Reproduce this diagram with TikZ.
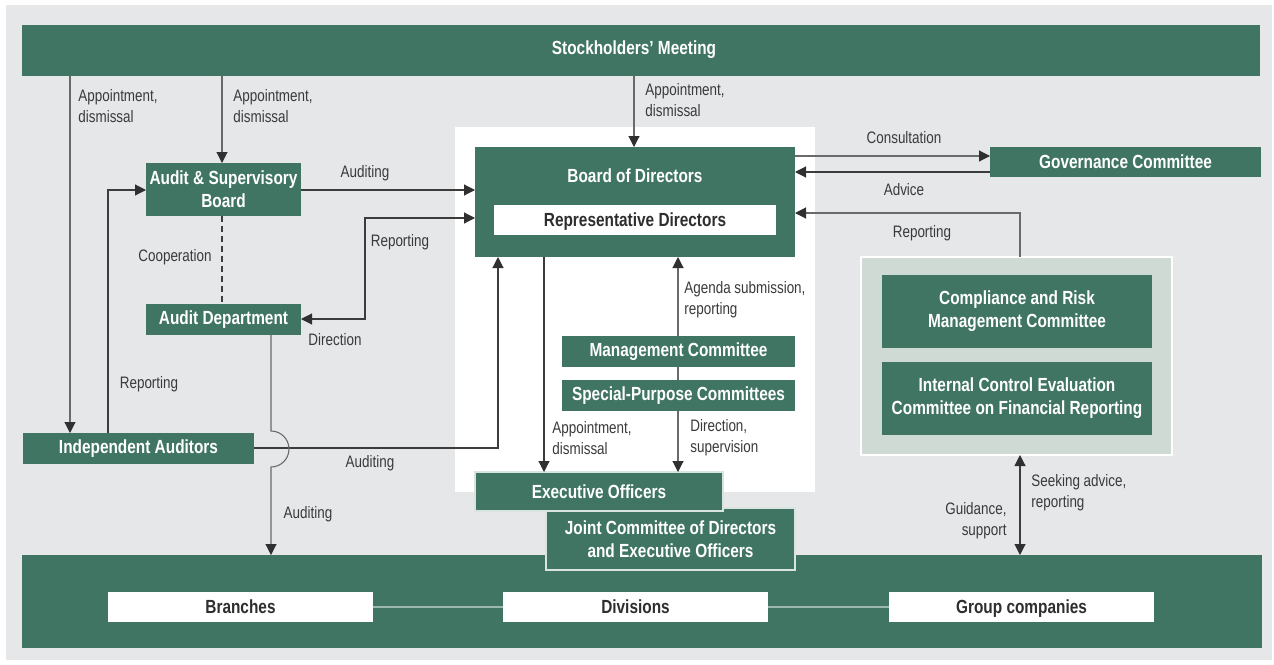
\documentclass[tikz,border=0pt]{standalone}
\usepackage{fontspec}
\setmainfont[FakeStretch=0.81]{Liberation Sans}
\usetikzlibrary{arrows.meta,calc}
\definecolor{grn}{HTML}{407563}
\definecolor{bgc}{HTML}{E6E7E9}
\definecolor{pnl}{HTML}{CFDAD5}
\definecolor{lnc}{HTML}{3C3C3C}
\definecolor{lnl}{HTML}{6A6A6A}
\definecolor{txc}{HTML}{3A3A3A}
\definecolor{sep}{HTML}{9DB8AE}
\newcommand\bx[7]{\node[#6, minimum width={(#4-#2)*0.5pt}, minimum height={(#5-#3)*0.5pt}] (#1) at ({(#2+#4)/2},{(#3+#5)/2}) {#7};}
\tikzset{
  gbox/.style={fill=grn, text=white, inner sep=0pt, outer sep=0pt, align=center, font=\bfseries\fontsize{9.5}{11.5}\selectfont},
  gboxb/.style={gbox, draw=white!80!grn, line width=0.6pt},
  wbox/.style={fill=white, text=txc!80!black, inner sep=0pt, outer sep=0pt, align=center, text height=6.8pt, text depth=0pt, font=\bfseries\fontsize{9.5}{11.5}\selectfont},
  plain/.style={inner sep=0pt, outer sep=0pt},
  lbl/.style={text=txc, inner sep=0pt, font=\fontsize{8.3}{10.5}\selectfont},
  ln/.style={draw=lnc, line width=0.55pt},
  lnlt/.style={draw=lnl, line width=0.55pt},
  tip/.tip={Triangle[length=5.5pt,width=5.5pt,color=lnc!80!black]},
  arr/.style={ln, -tip},
  arrl/.style={lnlt, -tip},
  darr/.style={ln, tip-tip},
}
\begin{document}
\begin{tikzpicture}[x=0.5pt,y=-0.5pt]
\useasboundingbox (0,0) rectangle (1274,664);
\fill[bgc] (6,5) rectangle (1272,660);
% white panel behind board
\bx{wpanel}{455}{127}{815}{492}{plain, fill=white}{}
% right panel
\bx{rpanel}{861}{257}{1172}{455}{plain, fill=pnl, draw=white, line width=1pt}{}
% top and bottom bars
\bx{stock}{22}{25}{1260}{76}{gbox}{}
\node[gbox, fill=none] (stocktxt) at (634,50) {Stockholders’ Meeting};
\bx{bottom}{22}{555}{1262}{648}{gbox}{}
% boxes
\bx{board}{475}{147}{795}{257}{gbox}{}
\node[gbox, fill=none] (boardtxt) at (635,176) {Board of Directors};
\bx{rep}{494}{205}{776}{235}{wbox}{Representative Directors}
\bx{gov}{990}{147}{1261}{177}{gbox}{Governance Committee}
\bx{asb}{146}{163}{301}{216}{gbox}{Audit \& Supervisory\\Board}
\bx{ad}{146}{304}{301}{335}{gbox}{Audit Department}
\bx{ia}{23}{433}{254}{464}{gbox}{Independent Auditors}
\bx{mc}{562}{336}{795}{367}{gbox}{Management Committee}
\bx{spc}{562}{380}{795}{411}{gbox}{Special-Purpose Committees}
\bx{jc}{546}{508}{795}{570}{gboxb}{Joint Committee of Directors\\and Executive Officers}
\bx{eo}{475}{472}{723}{511}{gboxb}{Executive Officers}
\bx{crm}{882}{275}{1152}{348}{gbox}{Compliance and Risk\\Management Committee}
\bx{ice}{882}{362}{1152}{435}{gbox}{Internal Control Evaluation\\Committee on Financial Reporting}
% bottom white boxes
\bx{br}{108}{592}{373}{622}{wbox}{Branches}
\bx{dv}{503}{592}{768}{622}{wbox}{Divisions}
\bx{gc}{889}{592}{1154}{622}{wbox}{Group companies}
\draw[sep, line width=1pt] (br.east) -- (dv.west);
\draw[sep, line width=1pt] (dv.east) -- (gc.west);
% connectors
\draw[arrl] (stock.south -| 70,0) -- (ia.north -| 70,0);
\draw[arrl] (stock.south -| 222,0) -- (asb.north -| 222,0);
\draw[arrl] (stock.south -| 634,0) -- (board.north -| 634,0);
\draw[arr] (asb.east |- 0,190) -- (board.west |- 0,190);
\draw[ln, tip-tip] (ad.east |- 0,319) -- (365,319) -- (365,218) -- (board.west |- 0,218);
\draw[ln, dashed, dash pattern=on 3pt off 2pt] (asb.south -| 222,0) -- (ad.north -| 222,0);
\draw[arr] (ia.north -| 108,0) -- (108,190) -- (asb.west |- 0,190);
\draw[arr] (ia.east |- 0,448) -- (498,448) -- (board.south -| 498,0);
\draw[arrl] (ad.south -| 271,0) -- (271,431) arc(-90:90:18) -- (bottom.north -| 271,0);
\draw[arr] (board.south -| 544,0) -- (eo.north -| 544,0);
\draw[arrl] (mc.north -| 678,0) -- (board.south -| 678,0);
\draw[lnlt] (mc.south -| 678,0) -- (spc.north -| 678,0);
\draw[arrl] (spc.south -| 678,0) -- (eo.north -| 678,0);
\draw[arrl] (board.east |- 0,156) -- (gov.west |- 0,156);
\draw[arr] (gov.west |- 0,172) -- (board.east |- 0,172);
\draw[arrl] (rpanel.north -| 1020,0) -- (1020,213) -- (board.east |- 0,213);
\draw[darr] (rpanel.south -| 1020,0) -- (bottom.north -| 1020,0);
% labels
\node[lbl, anchor=west, align=left] (l1) at (78,106) {Appointment,\\dismissal};
\node[lbl, anchor=west, align=left] (l2) at (233,106) {Appointment,\\dismissal};
\node[lbl, anchor=west, align=left] (l3) at (645,100) {Appointment,\\dismissal};
\node[lbl] (l4) at (365,173) {Auditing};
\node[lbl] (l5) at (400,242) {Reporting};
\node[lbl] (l6) at (335,340) {Direction};
\node[lbl] (l7) at (175,257) {Cooperation};
\node[lbl] (l8) at (149,384) {Reporting};
\node[lbl] (l9) at (370,463) {Auditing};
\node[lbl] (l10) at (308,514) {Auditing};
\node[lbl, anchor=west, align=left] (l11) at (552,438) {Appointment,\\dismissal};
\node[lbl, anchor=west, align=left] (l12) at (684,300) {Agenda submission,\\reporting};
\node[lbl, anchor=west, align=left] (l13) at (690,438) {Direction,\\supervision};
\node[lbl] (l14) at (904,138) {Consultation};
\node[lbl] (l15) at (904,190) {Advice};
\node[lbl] (l16) at (922,233) {Reporting};
\node[lbl, anchor=east, align=right] (l17) at (1007,521) {Guidance,\\support};
\node[lbl, anchor=west, align=left] (l18) at (1031,493) {Seeking advice,\\reporting};
\end{tikzpicture}
\end{document}
